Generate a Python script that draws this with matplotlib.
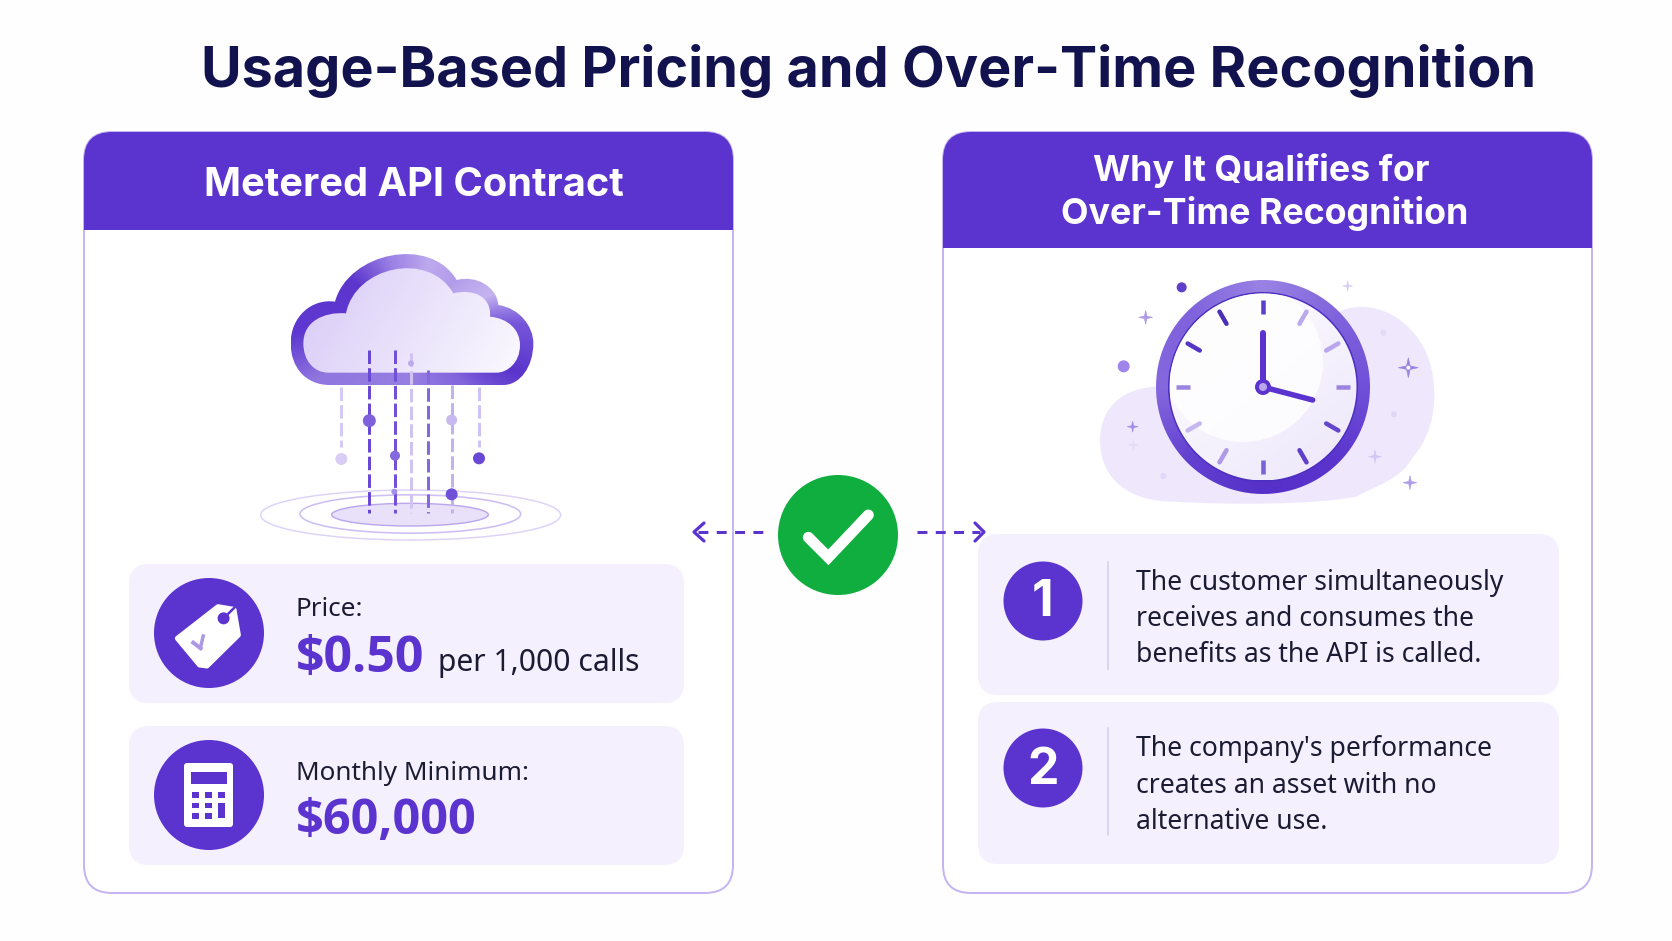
import numpy as np
import matplotlib
matplotlib.use("Agg")
import matplotlib.pyplot as plt
from matplotlib.path import Path
from matplotlib.patches import FancyBboxPatch, PathPatch, Circle, Ellipse, Rectangle, Polygon
from matplotlib.colors import to_rgb

# ---------- content ----------
title = "Usage-Based Pricing and Over-Time Recognition"
left_header = "Metered API Contract"
right_header = ["Why It Qualifies for", "Over-Time Recognition"]
price_label = "Price:"
price_value = "$0.50"
price_unit = "per 1,000 calls"
minimum_label = "Monthly Minimum:"
minimum_value = "$60,000"
reason_numbers = ["1", "2"]
reason_one = ["The customer simultaneously", "receives and consumes the", "benefits as the API is called."]
reason_two = ["The company's performance", "creates an asset with no", "alternative use."]

# ---------- palette ----------
PURPLE = "#5B34CF"
BORDER = "#C5B5F1"
PANEL = "#F5F0FE"
NAVY = "#12124F"
INK = "#1B1B33"
GREEN = "#10AE3F"
FONT = "Inter"

W, H = 1672, 941
fig = plt.figure(figsize=(W / 100, H / 100), dpi=100, facecolor="#FEFEFE")
ax = fig.add_axes([0, 0, 1, 1])
ax.set_xlim(0, W)
ax.set_ylim(H, 0)
ax.axis("off")


def px(v):
    return v * 0.72


def rbox(x0, y0, x1, y1, r, **kw):
    p = FancyBboxPatch((x0 + r, y0 + r), x1 - x0 - 2 * r, y1 - y0 - 2 * r,
                       boxstyle=f"round,pad={r},rounding_size={r}", **kw)
    ax.add_patch(p)
    return p


def angular_fill(path, cx, cy, stops, z):
    v = path.vertices
    x0, x1, y0, y1 = v[:, 0].min(), v[:, 0].max(), v[:, 1].min(), v[:, 1].max()
    xs, ys = np.meshgrid(np.linspace(x0, x1, 500), np.linspace(y0, y1, 500))
    ang = np.degrees(np.arctan2(ys - cy, xs - cx)) % 360
    deg = [s[0] for s in stops]
    cols = np.array([to_rgb(s[1]) for s in stops])
    arr = np.dstack([np.interp(ang, deg, cols[:, i]) for i in range(3)])
    im = ax.imshow(arr, extent=(x0, x1, y1, y0), aspect="auto", zorder=z, origin="upper", interpolation="bilinear")
    im.set_clip_path(path, ax.transData)


def linear_fill(path, c0, c1, direction, z):
    v = path.vertices
    x0, x1, y0, y1 = v[:, 0].min(), v[:, 0].max(), v[:, 1].min(), v[:, 1].max()
    xs, ys = np.meshgrid(np.linspace(0, 1, 400), np.linspace(0, 1, 400))
    t = np.clip(direction[0] * xs + direction[1] * ys, 0, 1)
    a, b = np.array(to_rgb(c0)), np.array(to_rgb(c1))
    arr = a + (b - a) * t[..., None]
    im = ax.imshow(arr, extent=(x0, x1, y1, y0), aspect="auto", zorder=z, origin="upper", interpolation="bilinear")
    im.set_clip_path(path, ax.transData)


def bez(points, tf):
    """points: start, then triples of (c1, c2, end); a single point means a straight line."""
    verts = [tf(*points[0])]
    codes = [Path.MOVETO]
    for seg in points[1:]:
        if len(seg) == 3:
            verts += [tf(*s) for s in seg]
            codes += [Path.CURVE4] * 3
        else:
            verts.append(tf(*seg[0]))
            codes.append(Path.LINETO)
    verts.append(verts[0])
    codes.append(Path.CLOSEPOLY)
    return Path(verts, codes)


# ---------- title ----------
ax.text(869, 71, title, ha="center", va="center", fontsize=40.1, fontweight="bold", color=NAVY, family=FONT, zorder=10)

# ---------- cards ----------
for (x0, x1, hb) in [(84, 733, 230), (943, 1592, 248)]:
    card = rbox(x0, 132, x1, 893, 28, fc="white", ec=BORDER, lw=px(2), zorder=1)
    hdr = Rectangle((x0, 132), x1 - x0, hb - 132, fc=PURPLE, ec="none", zorder=2)
    ax.add_patch(hdr)
    hdr.set_clip_path(card)

ax.text(414, 185, left_header, ha="center", va="center", fontsize=28.6, fontweight="bold", color="white", family=FONT, zorder=5)
ax.text(1261, 170, right_header[0], ha="center", va="center", fontsize=25.8, fontweight="bold", color="white", family=FONT, zorder=5)
ax.text(1265, 213, right_header[1], ha="center", va="center", fontsize=25.8, fontweight="bold", color="white", family=FONT, zorder=5)

# ---------- cloud illustration (coordinates of a 3x grid anchored at 240,230) ----------
zc = lambda x, y: (240 + x / 3, 230 + y / 3)
outer = bez([(285, 215), [(325, 68), (570, 15), (650, 150)], [(710, 135), (770, 170), (775, 225)],
             [(840, 235), (880, 290), (880, 340)], [(880, 410), (840, 465), (790, 465)], [(270, 465)],
             [(195, 465), (152, 410), (152, 340)], [(152, 260), (215, 205), (285, 215)]], zc)
inner = bez([(318, 250), [(345, 110), (565, 60), (640, 190)], [(700, 175), (755, 200), (750, 260)],
             [(805, 265), (840, 300), (840, 345)], [(840, 400), (800, 428), (770, 428)], [(265, 428)],
             [(220, 428), (190, 390), (190, 340)], [(190, 275), (250, 245), (318, 250)]], zc)
cx, cy = zc(515, 280)
angular_fill(outer, cx, cy, [(0, "#7656DA"), (25, "#5A34CC"), (50, "#8265DC"), (90, "#9880E2"), (150, "#9076DF"),
                             (175, "#5E38D0"), (215, "#5B35CC"), (250, "#9A80E4"), (285, "#BDA9EE"), (315, "#B29CEA"),
                             (340, "#C5B4F0"), (360, "#7656DA")], 2)
linear_fill(inner, "#D6C8F6", "#FBF9FF", (0.75, 0.25), 3)

rain_x = [304, 388, 465, 513, 564, 635, 716]
rain_top = [470, 360, 360, 370, 420, 465, 470]
rain_bottom = [650, 850, 850, 850, 850, 850, 650]
rain_col = ["#D5C9F5", "#6A48D6", "#7251D8", "#D0C2F3", "#8468DE", "#C3B2EF", "#CFC2F4"]
for x, t, b, c in zip(rain_x, rain_top, rain_bottom, rain_col):
    (xa, ya), (xb, yb) = zc(x, t), zc(x, b)
    ax.plot([xa, xb], [ya, yb], color=c, lw=px(3), ls=(0, (4.5, 1.4)), zorder=4, solid_capstyle="butt")
drops = [(304, 687, 6, "#D9CDF6"), (388, 572, 6.5, "#7F61DC"), (465, 677, 5, "#8568DE"), (513, 400, 3, "#BCA9EE"),
         (635, 570, 5.5, "#C9B9F1"), (635, 793, 6, "#7050D8"), (717, 685, 6, "#6A48D6"), (463, 785, 3, "#A58EE8")]
for x, y, r, c in drops:
    ax.add_patch(Circle(zc(x, y), r, fc=c, ec="none", zorder=5))
ax.add_patch(Ellipse(zc(510, 854), 470 / 3, 68 / 3, fc="#E9E1FA", ec="#B9A6EC", lw=px(1.4), zorder=3))
ax.add_patch(Ellipse(zc(511, 852), 662 / 3, 115 / 3, fc="none", ec="#CDBFF3", lw=px(1.6), zorder=3))
ax.add_patch(Ellipse(zc(512, 855), 900 / 3, 150 / 3, fc="none", ec="#DDD3F7", lw=px(1.5), zorder=3))

# ---------- clock illustration (3x grid anchored at 1080,260) ----------
zk = lambda x, y: (1080 + x / 3, 260 + y / 3)
blob = bez([(230, 380), [(110, 385), (60, 460), (60, 540)], [(60, 660), (150, 725), (280, 725)],
            [(450, 735), (700, 735), (830, 710)], [(900, 670), (960, 660), (1000, 590)],
            [(1060, 520), (1075, 420), (1055, 330)], [(1030, 200), (900, 110), (790, 150)], [(230, 380)]], zk)
ax.add_patch(PathPatch(blob, fc="#EFE8FC", ec="none", zorder=2))

CK = (1263, 387)
theta = np.linspace(0, 2 * np.pi, 240)
ring = Path(np.c_[CK[0] + 107 * np.cos(theta), CK[1] + 107 * np.sin(theta)])
angular_fill(ring, CK[0], CK[1], [(0, "#7050D8"), (45, "#5A34CC"), (90, "#5630C8"), (135, "#6240D0"), (180, "#8568DE"),
                                  (225, "#7F62DC"), (270, "#9A82E4"), (315, "#8064DC"), (360, "#7050D8")], 3)
ax.add_patch(Circle(CK, 95, fc="#4A2FC0", ec="none", zorder=4))
face = Path(np.c_[CK[0] + 93.5 * np.cos(theta), CK[1] + 93.5 * np.sin(theta)])
linear_fill(face, "#FFFFFF", "#EDE6FB", (0.45, 0.55), 4)
glow = Circle((1243, 362), 80, fc="white", ec="none", alpha=0.8, zorder=4)
ax.add_patch(glow)
glow.set_clip_path(face, ax.transData)

tick_col = ["#5F3ECA", "#BBA9EC", "#B9A6EC", "#9C84E2", "#6445CE", "#5F3ECA",
            "#7C60D6", "#AF9AE8", "#C6B8EF", "#9C84E2", "#5535C4", "#4B30B6"]
for i, c in enumerate(tick_col):
    a = np.radians(i * 30)
    ax.plot([CK[0] + 73 * np.sin(a), CK[0] + 87 * np.sin(a)], [CK[1] - 73 * np.cos(a), CK[1] - 87 * np.cos(a)],
            color=c, lw=px(4.5), solid_capstyle="round" if i % 3 else "butt", zorder=5)
ax.plot([CK[0], CK[0]], [CK[1], CK[1] - 54], color=PURPLE, lw=px(6), solid_capstyle="round", zorder=6)
ax.plot([CK[0], zk(698, 420)[0]], [CK[1], zk(698, 420)[1]], color=PURPLE, lw=px(5.5), solid_capstyle="round", zorder=6)
ax.add_patch(Circle(CK, 8, fc=PURPLE, ec="none", zorder=7))
ax.add_patch(Circle(CK, 4, fc="#B9A6EC", ec="none", zorder=8))


def sparkle(x, y, r, c, z=3):
    k = 0.18 * r
    pts = [(x, y - r), (x + k, y - k), (x + r, y), (x + k, y + k), (x, y + r), (x - k, y + k), (x - r, y), (x - k, y - k)]
    ax.add_patch(Polygon(pts, closed=True, fc=c, ec=c, lw=0.4, zorder=z))


for x, y, r, c in [(197, 172, 7, "#AE98E8"), (803, 78, 5, "#D8CDF6"), (985, 323, 10, "#9A82E2"), (158, 500, 5.5, "#A48CE6"),
                   (885, 590, 6.5, "#D3C6F5"), (990, 668, 7, "#AF9AE8"), (160, 555, 5, "#E4DBF9")]:
    sparkle(*zk(x, y), r, c)
ax.add_patch(Circle(zk(985, 323), 2, fc="white", ec="none", zorder=4))
for x, y, r, c in [(305, 82, 5, "#5F3ECA"), (131, 319, 6, "#9F84EA"), (910, 218, 3, "#E3DAF8"), (942, 463, 3, "#E0D6F8"),
                   (250, 648, 3, "#E0D6F8")]:
    ax.add_patch(Circle(zk(x, y), r, fc=c, ec="none", zorder=3))

# ---------- left panels ----------
for y0, y1 in [(564, 703), (726, 865)]:
    rbox(129, y0, 684, y1, 20, fc=PANEL, ec="none", zorder=2)
ax.add_patch(Circle((209, 633), 55, fc=PURPLE, ec="none", zorder=3))
ax.add_patch(Circle((209, 795), 55, fc=PURPLE, ec="none", zorder=3))

z3 = lambda x, y: (120 + x / 2.703, 550 + y / 3)
tag = [z3(*p) for p in [(155, 265), (265, 170), (308, 178), (320, 255), (235, 348), (215, 345)]]
ax.add_patch(Polygon(tag, closed=True, fc="white", ec="white", lw=px(5), joinstyle="round", zorder=4))
ax.add_patch(Circle(z3(280, 205), 6, fc=PURPLE, ec="none", zorder=5))
ax.plot(*zip(z3(280, 205), z3(310, 172)), color=PURPLE, lw=px(2.5), zorder=5)
ax.plot(*zip(z3(198, 278), z3(218, 295)), color="#AD98E6", lw=px(4), zorder=5)
ax.plot(*zip(z3(225, 258), z3(218, 290)), color="#AD98E6", lw=px(3.5), zorder=5)

rbox(184, 763, 233, 827, 3, fc="white", ec="none", zorder=4)
ax.add_patch(Rectangle(z3(192, 665), 96 / 2.703, 37 / 3, fc=PURPLE, ec="none", zorder=5))
for bx in (203, 238, 275):
    for by in (735, 767, 798):
        if bx == 275 and by > 735:
            continue
        ax.add_patch(Rectangle((z3(bx, by)[0] - 3.5, z3(bx, by)[1] - 2.7), 7, 5.4, fc=PURPLE, ec="none", zorder=5))
ax.add_patch(Rectangle((z3(275, 760)[0] - 3.5, z3(275, 760)[1]), 7, 15, fc=PURPLE, ec="none", zorder=5))

ax.text(296, 610, price_label, va="center", fontsize=18.8, color=INK, family="Noto Sans", zorder=6)
ax.text(296, 659, price_value, va="center", fontsize=36, fontweight="bold", color=PURPLE, family="Open Sans", zorder=6)
ax.text(438, 663, price_unit, va="center", fontsize=21.7, color=INK, family="Noto Sans", zorder=6)
ax.text(296, 773, minimum_label, va="center", fontsize=18.8, color=INK, family="Noto Sans", zorder=6)
ax.text(296, 822, minimum_value, va="center", fontsize=35, fontweight="bold", color=PURPLE, family="Open Sans", zorder=6)

# ---------- right panels ----------
rows = [(534, 695, 601, 562, 669, reason_numbers[0], reason_one, [583, 619, 655]),
        (702, 864, 768, 728, 835, reason_numbers[1], reason_two, [749, 786, 822])]
for y0, y1, cyc, d0, d1, num, lines, ys in rows:
    rbox(978, y0, 1559, y1, 20, fc=PANEL, ec="none", zorder=2)
    ax.add_patch(Circle((1043, cyc), 39.5, fc=PURPLE, ec="none", zorder=3))
    ax.text(1043, cyc + 2, num, ha="center", va="center", fontsize=36, fontweight="bold", color="white", family=FONT, zorder=6)
    ax.plot([1108, 1108], [d0, d1], color="#D5CDEB", lw=px(1.5), zorder=3)
    for line, y in zip(lines, ys):
        ax.text(1136, y, line, va="center", fontsize=19.1, color=INK, family="Noto Sans", zorder=6)

# ---------- centre badge ----------
ax.add_patch(Circle((838, 535), 60, fc=GREEN, ec="none", zorder=6))
ax.plot([680 + 385 / 3, 680 + 445 / 3, 680 + 565 / 3], [460 + 232 / 3, 460 + 292 / 3, 460 + 165 / 3], color="white",
        lw=px(11), solid_capstyle="round", solid_joinstyle="miter", zorder=7)
ax.plot([698, 766], [532, 532], color=PURPLE, lw=px(3), ls=(0, (3.3, 2.8)), zorder=5)
ax.plot([917, 980], [532, 532], color=PURPLE, lw=px(3), ls=(0, (3.3, 2.8)), zorder=5)
ax.plot([704, 694, 704], [523, 532, 541], color=PURPLE, lw=px(3.2), solid_capstyle="round", solid_joinstyle="round", zorder=5)
ax.plot([975, 984, 975], [523, 532, 541], color=PURPLE, lw=px(3.2), solid_capstyle="round", solid_joinstyle="round", zorder=5)

ax.set_xlim(0, W)
ax.set_ylim(H, 0)
fig.savefig("out.png", dpi=100, facecolor=fig.get_facecolor())
